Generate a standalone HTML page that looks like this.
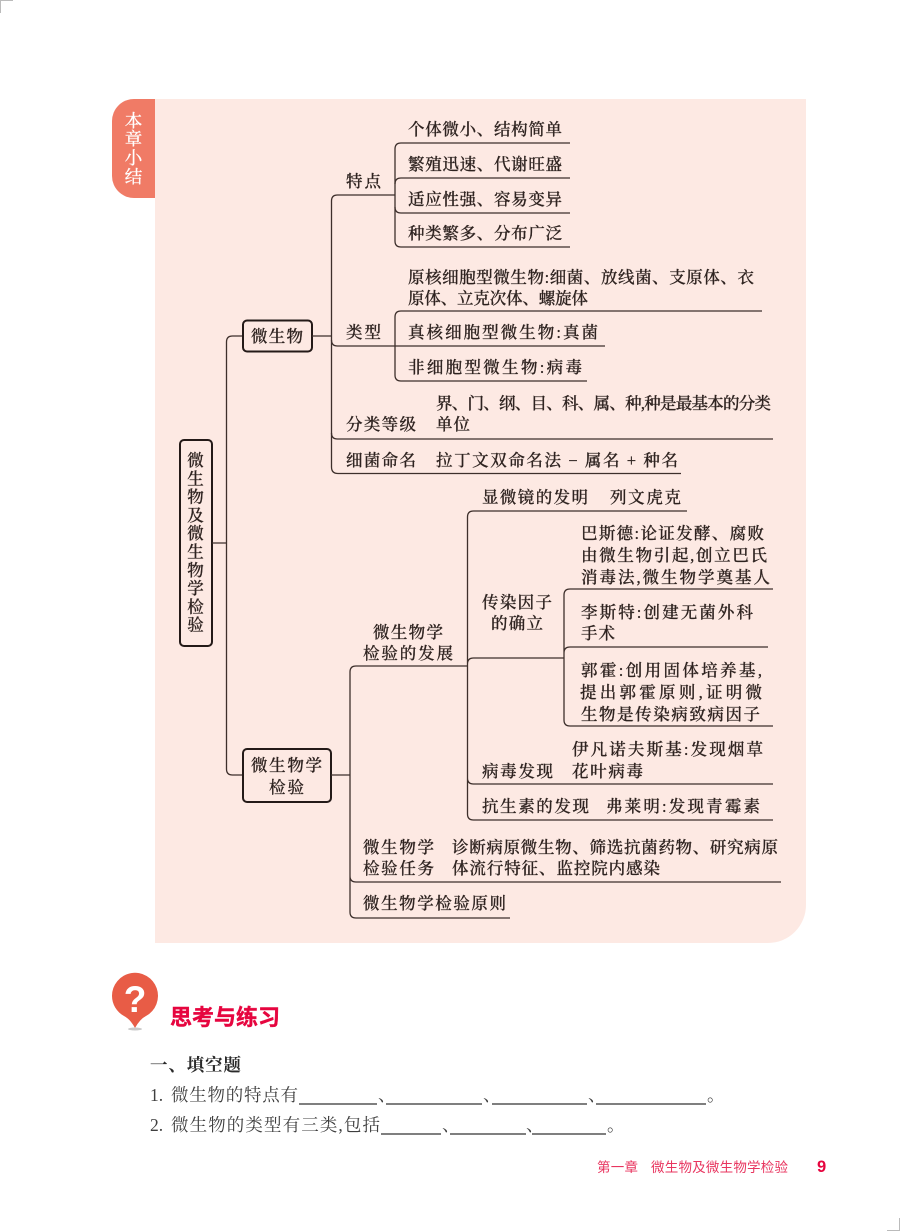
<!DOCTYPE html>
<html lang="zh"><head><meta charset="utf-8"><title>本章小结</title>
<style>
html,body{margin:0;padding:0;background:#fff}
svg{display:block}
.t{font-family:"Liberation Serif","Noto Serif CJK SC",serif;font-size:16.5px;fill:#2e2320;stroke:#2e2320;stroke-width:.25px;font-weight:500}
.l{fill:none;stroke:#3d2f2b;stroke-width:1.3}
.b{fill:none;stroke:#241a18;stroke-width:2}
.q{font-family:"Liberation Serif","Noto Serif CJK SC",serif;font-size:17.5px;fill:#3f3f3f}
.u{stroke:#555;stroke-width:1.4}
</style></head><body>
<svg xmlns="http://www.w3.org/2000/svg" width="900" height="1231" viewBox="0 0 900 1231">
<rect width="900" height="1231" fill="#fff"/>
<path d="M0 .5H13M.5 0V13M887 1230.5H900M899.5 1218V1231" stroke="#bbb" stroke-width="1" fill="none"/>
<path d="M155 99H806V905A38 38 0 0 1 768 943H155Z" fill="#fde9e3"/>
<path d="M155 99V198H134A22 22 0 0 1 112 176V121A22 22 0 0 1 134 99Z" fill="#f07b66"/>
<g font-family="'Liberation Serif','Noto Serif CJK SC',serif" font-size="17.5" fill="#fff" stroke="#fff" stroke-width=".3" text-anchor="middle">
<text x="133.5" y="127">本</text><text x="133.5" y="145">章</text><text x="133.5" y="164">小</text><text x="133.5" y="183">结</text></g>

<rect x="180" y="440" width="32" height="206" rx="4" class="b"/>
<rect x="243" y="320.500" width="69" height="31" rx="4" class="b"/>
<rect x="243" y="749" width="88" height="53" rx="4" class="b"/>

<path class="l" d="M212 543H226.500M242 336H232.500Q226.500 336 226.500 342V769Q226.500 775 232.500 775H242"/>
<path class="l" d="M312 336H331.500M395 195H337.500Q331.500 195 331.500 201V467Q331.500 473.500 338 473.500H681"/>
<path class="l" d="M331.500 340Q331.500 346 337.500 346H605M331.500 433Q331.500 439 337.500 439H773"/>
<path class="l" d="M570 143H401Q395 143 395 149V241Q395 247 401 247H570"/>
<path class="l" d="M395 184Q395 178 401 178H570M395 207Q395 213 401 213H570"/>
<path class="l" d="M762 311H401Q395 311 395 317V375Q395 381 401 381H587"/>
<path class="l" d="M331 775H350M467.500 666H356Q350 666 350 672V912Q350 918 356 918H510M350 876Q350 882 356 882H781"/>
<path class="l" d="M687 511H473.500Q467.500 511 467.500 517V814Q467.500 820 473.500 820H773M467.500 778Q467.500 784 473.500 784H773M467.500 664Q467.500 658 473.500 658H564"/>
<path class="l" d="M773 589H570Q564 589 564 595V720Q564 726 570 726H773M564 653Q564 647 570 647H768"/>

<g class="t" font-size="16.5" text-anchor="middle">
<text x="195.500" y="466">微</text><text x="195.500" y="484.300">生</text><text x="195.500" y="502.600">物</text><text x="195.500" y="520.900">及</text><text x="195.500" y="539.200">微</text><text x="195.500" y="557.500">生</text><text x="195.500" y="575.800">物</text><text x="195.500" y="594.100">学</text><text x="195.500" y="612.400">检</text><text x="195.500" y="630.700">验</text>
</g>
<g class="t" lengthAdjust="spacing">
<text x="251" y="342" textLength="52">微生物</text>
<text x="251" y="771" textLength="71">微生物学</text>
<text x="269" y="793" textLength="35">检验</text>
<text x="346" y="187" textLength="35">特点</text>
<text x="346" y="338" textLength="35">类型</text>
<text x="346" y="430" textLength="70">分类等级</text>
<text x="346" y="466" textLength="70">细菌命名</text>
<text x="408" y="135" textLength="154">个体微小、结构简单</text>
<text x="408" y="170" textLength="154">繁殖迅速、代谢旺盛</text>
<text x="408" y="205" textLength="154">适应性强、容易变异</text>
<text x="408" y="239" textLength="154">种类繁多、分布广泛</text>
<text x="408" y="283" textLength="346">原核细胞型微生物:细菌、放线菌、支原体、衣</text>
<text x="408" y="304" textLength="180">原体、立克次体、螺旋体</text>
<text x="408" y="338" textLength="190">真核细胞型微生物:真菌</text>
<text x="408" y="373" textLength="174">非细胞型微生物:病毒</text>
<text x="436" y="409" textLength="335">界、门、纲、目、科、属、种,种是最基本的分类</text>
<text x="436" y="430" textLength="34">单位</text>
<text x="436" y="466" textLength="242">拉丁文双命名法 − 属名 + 种名</text>
<text x="482" y="503" textLength="106">显微镜的发明</text>
<text x="610" y="503" textLength="71">列文虎克</text>
<text x="581" y="539" textLength="183">巴斯德:论证发酵、腐败</text>
<text x="581" y="561" textLength="186">由微生物引起,创立巴氏</text>
<text x="581" y="583" textLength="189">消毒法,微生物学奠基人</text>
<text x="482" y="608" textLength="70">传染因子</text>
<text x="491" y="629" textLength="52">的确立</text>
<text x="581" y="618" textLength="172">李斯特:创建无菌外科</text>
<text x="581" y="639" textLength="34">手术</text>
<text x="581" y="676" textLength="181">郭霍:创用固体培养基,</text>
<text x="580" y="698" textLength="182">提出郭霍原则,证明微</text>
<text x="581" y="720" textLength="179">生物是传染病致病因子</text>
<text x="373" y="638" textLength="70">微生物学</text>
<text x="363" y="659" textLength="90">检验的发展</text>
<text x="572" y="755" textLength="191">伊凡诺夫斯基:发现烟草</text>
<text x="572" y="777" textLength="71">花叶病毒</text>
<text x="482" y="777" textLength="71">病毒发现</text>
<text x="482" y="812" textLength="107">抗生素的发现</text>
<text x="606" y="812" textLength="154">弗莱明:发现青霉素</text>
<text x="363" y="853" textLength="71">微生物学</text>
<text x="363" y="874" textLength="71">检验任务</text>
<text x="452" y="853" textLength="326">诊断病原微生物、筛选抗菌药物、研究病原</text>
<text x="452" y="874" textLength="208">体流行特征、监控院内感染</text>
<text x="363" y="909" textLength="143">微生物学检验原则</text>
</g>

<path d="M112 996A23 23 0 1 1 146 1016Q140 1019 135 1028Q130 1019 124 1016A23 23 0 0 1 112 996Z" fill="#e85c46"/>
<ellipse cx="135" cy="1029" rx="7" ry="1.500" fill="#c9c9c9"/>
<text x="135" y="1012" text-anchor="middle" font-family="'Liberation Sans',sans-serif" font-weight="700" font-size="37" fill="#fff">?</text>
<text x="170" y="1025" textLength="110" font-family="'Liberation Sans','Noto Sans CJK SC',sans-serif" font-weight="700" font-size="22" fill="#e6053f" stroke="#e6053f" stroke-width=".4">思考与练习</text>
<text x="150" y="1071" textLength="91" font-family="'Liberation Serif','Noto Serif CJK SC',serif" font-weight="700" font-size="17.500" fill="#2a2a2a">一、填空题</text>

<text class="q" x="150" y="1101">1.</text>
<text class="q" x="171" y="1101" textLength="127">微生物的特点有</text>
<path class="u" d="M299 1104H377M386 1104H482M492 1104H587M596 1104H706M381 1134H441M450 1134H526M532 1134H606"/>
<text class="q" x="378" y="1101">、</text><text class="q" x="483" y="1101">、</text><text class="q" x="588" y="1101">、</text><text class="q" x="707" y="1101">。</text>
<text class="q" x="150" y="1131">2.</text>
<text class="q" x="171" y="1131" textLength="209">微生物的类型有三类,包括</text>
<text class="q" x="442" y="1131">、</text><text class="q" x="526" y="1131">、</text><text class="q" x="607" y="1131">。</text>

<text x="597" y="1172" textLength="41" font-family="'Liberation Sans','Noto Sans CJK SC',sans-serif" font-size="13.500" fill="#e8355f">第一章</text>
<text x="651" y="1172" textLength="137" font-family="'Liberation Sans','Noto Sans CJK SC',sans-serif" font-size="13.500" fill="#e8355f">微生物及微生物学检验</text>
<text x="817" y="1172" font-family="'Liberation Sans',sans-serif" font-weight="700" font-size="16.500" fill="#e6053f">9</text>
</svg>
</body></html>
